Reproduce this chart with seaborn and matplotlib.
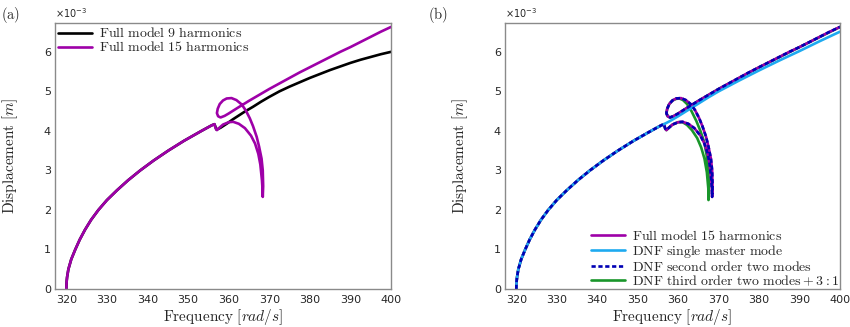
import matplotlib
matplotlib.use('Agg')
import matplotlib.pyplot as plt
import seaborn as sns

# displacement values in units of 1e-3 m, frequency in rad/s
backbone_freq = [320.0, 320.02, 320.08, 320.18, 320.5, 321.2, 322.2, 323.3, 324.6, 326.1, 327.9, 330.0,
                 332.5, 335.2, 338.2, 341.5, 345.1, 349.0, 353.3, 354.9, 355.8, 356.5]
backbone_disp = [0.0, 0.1, 0.2, 0.3, 0.5, 0.75, 1.0, 1.25, 1.5, 1.75, 2.0, 2.25,
                 2.5, 2.75, 3.0, 3.25, 3.5, 3.75, 4.0, 4.09, 4.14, 4.17]

# full model, 15 harmonics: cusp, lower loop, fold, upper loop, upper branch
full15_freq = backbone_freq + [356.8, 357.1, 357.6, 358.6, 360.0, 361.1, 362.5, 364.0, 365.5, 366.5, 367.3,
                               367.8, 368.2, 368.35, 368.4, 368.5, 368.4, 368.1, 367.5, 366.9, 366.0, 365.2,
                               364.2, 363.2, 361.9, 360.7, 359.5, 358.6, 357.8, 357.3, 357.1, 357.4, 358.0,
                               359.0, 360.0, 362.0, 365.0, 367.5, 370.0, 372.5, 375.0, 377.5, 380.0, 382.5,
                               385.0, 387.5, 390.0, 392.5, 395.0, 397.5, 400.0]
full15_disp = backbone_disp + [4.06, 4.02, 4.07, 4.16, 4.22, 4.23, 4.18, 4.07, 3.88, 3.68, 3.42,
                               3.15, 2.75, 2.5, 2.33, 2.6, 3.0, 3.3, 3.6, 3.85, 4.12, 4.32,
                               4.52, 4.67, 4.78, 4.83, 4.82, 4.77, 4.68, 4.56, 4.45, 4.37, 4.34,
                               4.38, 4.44, 4.57, 4.76, 4.91, 5.06, 5.20, 5.34, 5.48, 5.61, 5.74,
                               5.87, 6.00, 6.12, 6.25, 6.38, 6.51, 6.63]

# full model, 9 harmonics
full9_freq = backbone_freq + [357.0, 358.0, 359.5, 361.0, 362.5, 364.0, 366.0, 368.0, 370.0, 372.5,
                              375.0, 377.5, 380.0, 382.5, 385.0, 387.5, 390.0, 392.5, 395.0, 397.5, 400.0]
full9_disp = backbone_disp + [4.03, 4.08, 4.18, 4.29, 4.39, 4.49, 4.61, 4.74, 4.86, 5.00,
                              5.12, 5.23, 5.34, 5.44, 5.54, 5.63, 5.72, 5.80, 5.87, 5.94, 6.0]

# DNF single master mode
dnf1_freq = backbone_freq + [358.0, 360.0, 362.5, 365.0, 367.5, 370.0, 375.0, 380.0, 385.0, 390.0,
                             395.0, 400.0]
dnf1_disp = backbone_disp + [4.25, 4.37, 4.53, 4.69, 4.85, 5.0, 5.27, 5.53, 5.78, 6.02, 6.27, 6.51]

# DNF second order two modes (on top of the full model)
dnf2_freq = full15_freq
dnf2_disp = full15_disp

# DNF third order two modes + 3:1
dnf3_freq = backbone_freq + [356.8, 357.1, 357.6, 358.6, 360.0, 361.1, 362.2, 363.4, 364.7, 365.7, 366.5,
                             367.1, 367.45, 367.5, 367.6, 367.5, 367.1, 366.5, 365.5, 364.5, 363.3, 362.2,
                             361.2, 360.3, 359.5, 358.6, 357.8, 357.3, 357.1, 357.4, 358.0, 359.0, 360.0,
                             362.0, 365.0, 370.0, 380.0, 390.0, 400.0]
dnf3_disp = backbone_disp + [4.06, 4.02, 4.07, 4.16, 4.22, 4.22, 4.15, 4.02, 3.82, 3.58, 3.30,
                             2.95, 2.55, 2.25, 2.5, 2.95, 3.35, 3.7, 4.0, 4.25, 4.5, 4.68,
                             4.78, 4.82, 4.81, 4.77, 4.68, 4.56, 4.45, 4.37, 4.34, 4.38, 4.44,
                             4.57, 4.76, 5.06, 5.61, 6.12, 6.63]

x_ticks = [320, 330, 340, 350, 360, 370, 380, 390, 400]
y_ticks = [0, 1, 2, 3, 4, 5, 6]

MAGENTA = '#9e00a8'
CYAN = '#1eaaf0'
BLUE = '#0000b4'
GREEN = '#19962a'
GREY = '#8a8a8a'

sns.set_style('white')
plt.rcParams['font.family'] = ['DejaVu Sans']
plt.rcParams['mathtext.fontset'] = 'cm'

fig = plt.figure(figsize=(8.5, 3.27), dpi=100)
ax1 = fig.add_axes([0.0647, 0.1162, 0.3953, 0.8135])
ax2 = fig.add_axes([0.5941, 0.1162, 0.3941, 0.8135])

lw = 1.9
sns.lineplot(x=full9_freq, y=full9_disp, sort=False, estimator=None, ax=ax1, color='black', lw=lw,
             label=r'$\mathrm{Full\ model\ 9\ harmonics}$')
sns.lineplot(x=full15_freq, y=full15_disp, sort=False, estimator=None, ax=ax1, color=MAGENTA, lw=lw,
             label=r'$\mathrm{Full\ model\ 15\ harmonics}$')

sns.lineplot(x=dnf3_freq, y=dnf3_disp, sort=False, estimator=None, ax=ax2, color=GREEN, lw=lw,
             label=r'$\mathrm{DNF\ third\ order\ two\ modes} + 3{:}1$')
sns.lineplot(x=full15_freq, y=full15_disp, sort=False, estimator=None, ax=ax2, color=MAGENTA, lw=lw,
             label=r'$\mathrm{Full\ model\ 15\ harmonics}$')
sns.lineplot(x=dnf1_freq, y=dnf1_disp, sort=False, estimator=None, ax=ax2, color=CYAN, lw=lw,
             label=r'$\mathrm{DNF\ single\ master\ mode}$')
sns.lineplot(x=dnf2_freq, y=dnf2_disp, sort=False, estimator=None, ax=ax2, color=BLUE, lw=lw,
             linestyle=(0, (1.6, 1.0)), label=r'$\mathrm{DNF\ second\ order\ two\ modes}$')

for ax, tag in [(ax1, '(a)'), (ax2, '(b)')]:
    ax.set_xlim(317.2, 400)
    ax.set_ylim(0, 6.73)
    ax.set_xticks(x_ticks)
    ax.set_yticks(y_ticks)
    ax.tick_params(direction='in', length=3, width=0.8, color=GREY, labelsize=8,
                   labelcolor='#262626')
    ax.tick_params(axis='x', pad=4.5)
    ax.tick_params(axis='y', pad=3)
    for sp in ax.spines.values():
        sp.set_color(GREY)
        sp.set_linewidth(1.0)
    ax.set_xlabel(r'$\mathrm{Frequency}\ [rad/s]$', fontsize=11, labelpad=1)
    ax.set_ylabel(r'$\mathrm{Displacement}\ [m]$', fontsize=11, labelpad=17)
    ax.text(0.0, 1.012, r'$\times10^{-3}$', transform=ax.transAxes, fontsize=7,
            color='#262626', math_fontfamily='dejavusans', va='bottom', ha='left')
    fig.text(ax.get_position().x0 - (0.064 if tag == '(a)' else 0.09), 0.985, r'$\mathrm{' + tag + '}$',
             fontsize=10.5, va='top', ha='left')

h, l = ax1.get_legend_handles_labels()
ax1.legend(h, l, loc='upper left', frameon=False, fontsize=10, handlelength=2.4,
           labelspacing=0.0, handletextpad=0.5, borderaxespad=0.05, borderpad=0.2)

h, l = ax2.get_legend_handles_labels()
order = [1, 2, 3, 0]
ax2.legend([h[i] for i in order], [l[i] for i in order], loc='lower right', frameon=False,
           fontsize=10, handlelength=2.4, labelspacing=0.0, handletextpad=0.5,
           borderaxespad=0.0, borderpad=0.05)

fig.savefig('out.png', dpi=100)
